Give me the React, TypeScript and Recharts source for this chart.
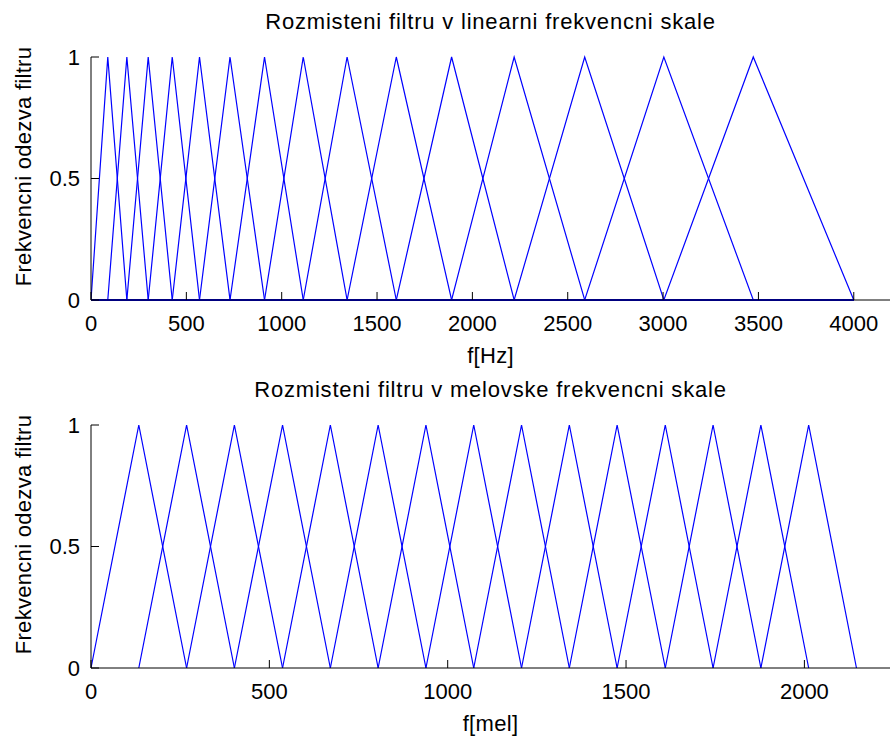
import React from 'react';
import { LineChart, Line, XAxis, YAxis, Label } from 'recharts';

// filter edges (Hz): start / peak / end points of the triangles
const hzEdges = [0, 88, 188, 300, 426, 569, 729, 910, 1113, 1343, 1601, 1891, 2219, 2589, 3004, 3473, 4000];
// the same edges on the mel axis (equally spaced)
const melEdges = [0, 134, 268, 402, 537, 671, 805, 939, 1073, 1207, 1341, 1475, 1610, 1744, 1878, 2012, 2146];

const hzTicks = [0, 500, 1000, 1500, 2000, 2500, 3000, 3500, 4000];
const melTicks = [0, 500, 1000, 1500, 2000];
const yTicks = [0, 0.5, 1];

const titles = ['Rozmisteni filtru v linearni frekvencni skale', 'Rozmisteni filtru v melovske frekvencni skale'];
const xLabels = ['f[Hz]', 'f[mel]'];
const yLabel = 'Frekvencni odezva filtru';

const FONT = '"Liberation Sans", Arial, sans-serif';
const BLUE = '#0000ff';
const PLOT_H = 243;

type Pt = { x: number; y: number };

// one triangle per filter; in the linear plot every filter is zero over the whole band
const buildFilters = (edges: number[], fullBand: boolean): Pt[][] =>
    edges.slice(0, -2).map((lo, i) => {
        const tri = [{ x: lo, y: 0 }, { x: edges[i + 1], y: 1 }, { x: edges[i + 2], y: 0 }];
        return fullBand ? [{ x: edges[0], y: 0 }, ...tri, { x: edges[edges.length - 1], y: 0 }] : tri;
    });

interface PanelProps {
    filters: Pt[][];
    xMax: number;
    ticks: number[];
    title: string;
    xLabel: string;
    top: number;
}

const Panel: React.FC<PanelProps> = ({ filters, xMax, ticks, title, xLabel, top }) => (
    <div style={{ position: 'absolute', left: 0, top }}>
        <LineChart width={891} height={369} margin={{ top: 57, right: 1, bottom: 39, left: 0 }}>
            <XAxis
                type="number"
                dataKey="x"
                domain={[0, xMax]}
                ticks={ticks}
                allowDataOverflow
                height={30}
                tickSize={-8}
                tickMargin={23}
                stroke="#000"
                tick={{ fill: '#000', fontSize: 22, fontFamily: FONT }}
            >
                <Label
                    content={(p: any) => {
                        const vb = p.viewBox;
                        const cx = vb.x + vb.width / 2;
                        return (
                            <g fontFamily={FONT} fontSize={22} fill="#000">
                                <text x={cx} y={vb.y + 63} textAnchor="middle" letterSpacing={0.3}>{xLabel}</text>
                                <text x={cx} y={vb.y - PLOT_H - 28} textAnchor="middle" letterSpacing={0.8}>{title}</text>
                            </g>
                        );
                    }}
                />
            </XAxis>
            <YAxis
                type="number"
                domain={[0, 1]}
                ticks={yTicks}
                width={91}
                tickSize={-8}
                tickMargin={19}
                stroke="#000"
                tick={{ fill: '#000', fontSize: 22, fontFamily: FONT }}
            >
                <Label
                    content={(p: any) => {
                        const vb = p.viewBox;
                        const cy = vb.y + vb.height / 2 - 12;
                        return (
                            <text
                                x={31}
                                y={cy}
                                transform={`rotate(-90, 31, ${cy})`}
                                textAnchor="middle"
                                fontFamily={FONT}
                                fontSize={22}
                                letterSpacing={0.3}
                                fill="#000"
                            >
                                {yLabel}
                            </text>
                        );
                    }}
                />
            </YAxis>
            {filters.map((d, i) => (
                <Line
                    key={i}
                    data={d}
                    dataKey="y"
                    type="linear"
                    stroke={BLUE}
                    strokeWidth={1.2}
                    dot={false}
                    activeDot={false}
                    isAnimationActive={false}
                />
            ))}
        </LineChart>
    </div>
);

export default function App() {
    return (
        <div style={{ position: 'absolute', left: 0, top: 0, width: 891, height: 738, background: '#fff' }}>
            <Panel filters={buildFilters(hzEdges, true)} xMax={4190} ticks={hzTicks} title={titles[0]} xLabel={xLabels[0]} top={0} />
            <Panel filters={buildFilters(melEdges, false)} xMax={2240} ticks={melTicks} title={titles[1]} xLabel={xLabels[1]} top={368} />
        </div>
    );
}
